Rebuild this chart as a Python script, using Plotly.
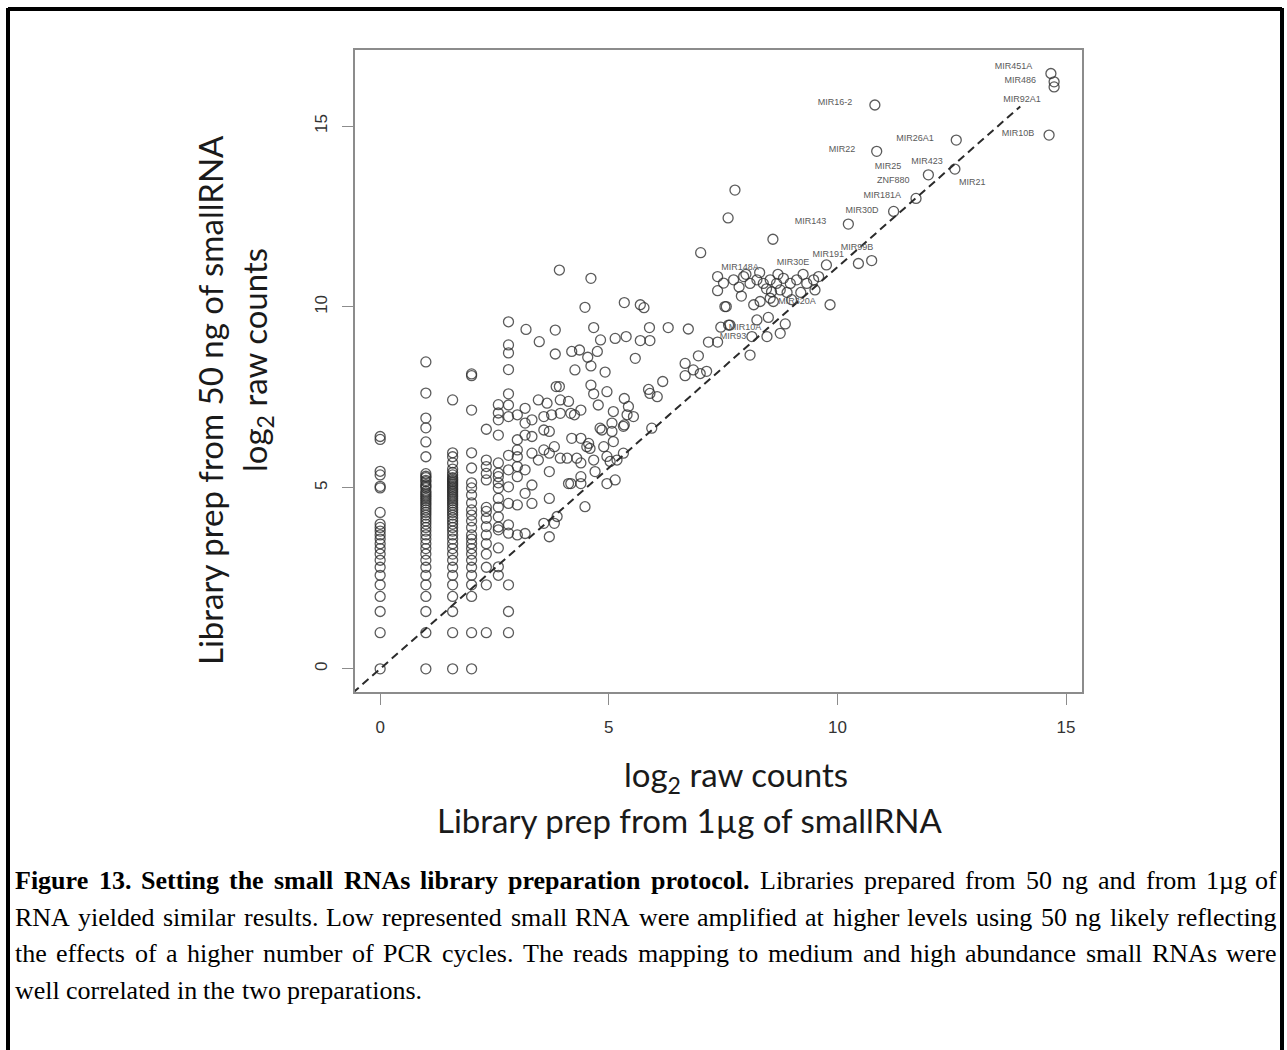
import plotly.graph_objects as go

# ---------------------------------------------------------------------------
# Data: log2 raw counts, library prepared from 1 ug (x) vs from 50 ng (y)
# ---------------------------------------------------------------------------
# Low-count reads fall on discrete log2 values, so they form columns.
col_x = [0.0, 1.0, 1.585, 2.0, 2.322, 2.585, 2.807]
col_y = [
    [0, 1, 1.585, 2, 2.322, 2.585, 2.807, 3, 3.17, 3.322, 3.459, 3.585, 3.7,
     3.807, 3.907, 4, 4.322, 5, 5.044, 5.358, 5.459, 6.34, 6.42],
    [0, 1, 1.585, 2, 2.322, 2.585, 2.807, 3, 3.17, 3.322, 3.459, 3.585, 3.7,
     3.807, 3.907, 4, 4.087, 4.17, 4.248, 4.322, 4.392, 4.459, 4.524, 4.585,
     4.644, 4.7, 4.755, 4.807, 4.858, 4.907, 5, 5.044, 5.087, 5.17, 5.209,
     5.285, 5.322, 5.392, 5.86, 6.27, 6.66, 6.93, 7.62, 8.48],
    [0, 1, 1.585, 2, 2.322, 2.585, 2.807, 3, 3.17, 3.322, 3.459, 3.585, 3.7,
     3.807, 3.907, 4, 4.087, 4.17, 4.248, 4.322, 4.392, 4.459, 4.524, 4.585,
     4.644, 4.7, 4.755, 4.807, 4.858, 4.907, 4.954, 5, 5.044, 5.087, 5.129,
     5.17, 5.209, 5.248, 5.285, 5.358, 5.426, 5.52, 5.69, 5.86, 5.97, 7.43],
    [0, 1, 2, 2.322, 2.585, 2.807, 3, 3.17, 3.322, 3.459, 3.585, 3.7, 3.907,
     4.087, 4.248, 4.392, 4.585, 4.807, 5, 5.14, 5.55, 5.97, 7.15, 8.1, 8.15],
    [1, 2.322, 2.807, 3.17, 3.459, 3.7, 3.93, 4.16, 4.35, 4.46, 5.22, 5.4,
     5.59, 5.77, 6.62],
    [2.585, 2.82, 3.34, 3.84, 3.92, 4.2, 4.47, 4.71, 4.99, 5.14, 5.31, 5.41,
     5.69, 6.46, 6.88, 7.07, 7.3],
    [1, 1.585, 2.322, 3.75, 3.98, 4.57, 5.03, 5.5, 5.9, 6.97, 7.29, 7.6, 8.27,
     8.73, 8.95, 9.59],
]

# Medium-abundance small RNAs (x = 1 ug prep, y = 50 ng prep)
mid_x = [
    3.92, 4.61, 7.01, 7.38, 7.51, 7.38, 7.54, 7.45, 7.62,
    4.48, 5.34, 5.69, 5.77,
    3.19, 3.83, 4.67, 5.89, 6.3, 6.74,
    3.48, 3.83, 4.19, 4.36, 4.54, 4.75, 4.82, 5.14, 5.38, 5.69, 5.9, 5.58, 7.18, 7.38,
    4.26, 4.61, 4.92,
    6.67, 6.96, 6.85, 7.14, 6.67, 7.0,
    3.85, 3.92, 4.61, 4.67, 4.96, 5.34, 5.87, 5.9, 6.06, 6.18,
    3.0, 3.17, 3.17,
    3.46, 3.65, 3.32, 3.58, 3.75, 3.94, 4.12, 3.94, 4.17, 4.39, 4.25,
    4.77, 5.1, 5.43, 5.4, 5.54, 5.34,
    3.0, 3.17, 3.32, 3.0,
    3.58, 3.7, 4.19, 4.39, 4.56, 4.59, 4.52,
    4.85, 5.07, 5.07, 5.1, 4.81, 5.32,
    3.0, 3.0, 3.0, 3.17,
    3.32, 3.58, 3.81, 3.7, 3.94, 4.09, 4.3, 4.39, 4.67, 3.46,
    3.7, 4.17, 4.39, 4.39, 4.7, 4.89, 5.03, 5.18, 4.96, 5.14, 5.32, 4.96,
    3.32, 3.17, 3.32,
    3.0, 3.7, 3.87, 3.81, 3.7, 3.58, 4.12, 4.48, 3.17, 3.0,
    5.94,
]
mid_y = [
    11.02, 10.79, 11.5, 10.84, 10.66, 10.45, 10.01, 9.44, 9.5,
    9.99, 10.12, 10.06, 9.98,
    9.38, 9.36, 9.43, 9.43, 9.43, 9.39,
    9.04, 8.7, 8.77, 8.81, 8.61, 8.77, 9.09, 9.13, 9.18, 9.07, 9.07, 8.58, 9.03, 9.03,
    8.26, 8.37, 8.2,
    8.44, 8.65, 8.26, 8.22, 8.1, 8.16,
    7.8, 7.8, 7.84, 7.6, 7.66, 7.47, 7.72, 7.61, 7.52, 7.94,
    7.02, 7.2, 6.79,
    7.43, 7.34, 6.88, 6.97, 7.02, 7.43, 7.39, 7.06, 7.06, 7.15, 7.02,
    7.29, 7.11, 7.25, 7.02, 6.97, 6.74,
    6.33, 6.46, 6.42, 6.05,
    6.6, 6.56, 6.37, 6.37, 6.23, 6.09, 6.14,
    6.6, 6.79, 6.56, 6.28, 6.65, 6.7,
    5.86, 5.59, 5.31, 5.5,
    5.96, 6.05, 6.14, 5.96, 5.82, 5.82, 5.82, 5.69, 5.77, 5.77,
    5.45, 5.12, 5.31, 5.12, 5.45, 6.14, 5.73, 5.77, 5.12, 5.22, 5.96, 5.87,
    5.08, 4.85, 4.57,
    4.53, 4.71, 4.21, 4.02, 3.65, 4.02, 5.12, 4.48, 3.74, 3.7,
    6.65,
]

# High-abundance small RNAs
high_x = [
    8.59, 7.73, 7.95, 8.09, 8.24, 8.38, 8.53, 8.67, 8.82, 8.97, 9.11, 8.56,
    8.75, 8.53, 8.6, 9.33, 9.48, 9.59, 9.51,
    9.76, 10.46, 10.75, 9.84, 8.17, 8.31, 7.57,
    8.24, 8.49, 8.86, 8.75, 8.46, 7.65, 8.13, 8.09,
    7.85, 8.0, 8.3, 8.45, 8.9, 9.0, 9.2, 7.9, 8.7, 9.25,
    7.76, 7.61,
    10.24, 11.23, 11.72, 11.99, 12.57, 12.6, 10.86, 10.82, 14.63, 14.67,
    14.74, 14.74,
]
high_y = [
    11.87, 10.75, 10.84, 10.65, 10.75, 10.65, 10.75, 10.65, 10.79, 10.65,
    10.75, 10.42, 10.47, 10.24, 10.15, 10.65, 10.75, 10.84, 10.47,
    11.16, 11.2, 11.28, 10.06, 10.06, 10.15, 10.01,
    9.64, 9.71, 9.53, 9.27, 9.18, 9.5, 9.18, 8.67,
    10.55, 10.9, 10.95, 10.5, 10.4, 10.2, 10.4, 10.3, 10.9, 10.9,
    13.23, 12.46,
    12.29, 12.64, 13.0, 13.65, 13.81, 14.61, 14.3, 15.58, 14.75, 16.45,
    16.22, 16.08,
]

# Gene labels next to the most abundant species
label_text = ["MIR451A", "MIR486", "MIR92A1", "MIR10B", "MIR16-2", "MIR26A1",
              "MIR22", "MIR423", "MIR25", "ZNF880", "MIR21", "MIR181A",
              "MIR30D", "MIR143", "MIR99B", "MIR191", "MIR30E", "MIR148A",
              "MIR320A", "MIR10A", "MIR93"]
label_x = [13.85, 14.0, 14.04, 13.95, 9.95, 11.7, 10.1, 11.96, 11.11, 11.22,
           12.95, 10.98, 10.54, 9.41, 10.43, 9.8, 9.03, 7.87, 9.12, 7.98, 7.72]
label_y = [16.63, 16.25, 15.72, 14.78, 15.64, 14.65, 14.34, 14.01, 13.87,
           13.48, 13.43, 13.07, 12.66, 12.35, 11.63, 11.44, 11.22, 11.08,
           10.14, 9.42, 9.17]

# Regression line through the origin
fit_slope = 1.11
fit_x = [-0.6, 14.0]

x_ticks = [0, 5, 10, 15]
y_ticks = [0, 5, 10, 15]

caption_lines = [
    [("Figure 13. Setting the small RNAs library preparation protocol.", True),
     ("Libraries prepared from 50 ng and from 1µg of", False)],
    [("RNA yielded similar results. Low represented small RNA were amplified "
      "at higher levels using 50 ng likely reflecting", False)],
    [("the effects of a higher number of PCR cycles. The reads mapping to "
      "medium and high abundance small RNAs were", False)],
    [("well correlated in the two preparations.", False)],
]

# ---------------------------------------------------------------------------
# Page geometry (pixels)
# ---------------------------------------------------------------------------
W, H = 1287, 1050
PL, PR, PT, PB = 355, 1082, 50, 692
X_RANGE = [-0.55, 15.35]
Y_RANGE = [-0.64, 17.1]


def paper_x(px):
    return (px - PL) / (PR - PL)


def paper_y(py):
    return (PB - py) / (PB - PT)


all_x, all_y = [], []
for cx, ys in zip(col_x, col_y):
    all_x += [cx] * len(ys)
    all_y += ys
all_x += mid_x + high_x
all_y += mid_y + high_y

fig = go.Figure()

fig.add_trace(go.Scatter(
    x=fit_x, y=[fit_slope * v for v in fit_x], mode="lines",
    line=dict(color="#2b2b2b", width=2, dash="8px,5px"),
    hoverinfo="skip", showlegend=False))

fig.add_trace(go.Scatter(
    x=all_x, y=all_y, mode="markers",
    marker=dict(symbol="circle-open", size=10,
                color="rgba(45,45,45,0.78)", line=dict(width=1.3)),
    showlegend=False))

fig.add_trace(go.Scatter(
    x=label_x, y=label_y, mode="text", text=label_text,
    textfont=dict(family="Liberation Sans", size=9, color="#5a5a5a"),
    hoverinfo="skip", showlegend=False))

axis_common = dict(
    showgrid=False, zeroline=False, showline=True, mirror=True,
    linecolor="#8c8c8c", linewidth=1.6, ticks="outside", ticklen=11,
    tickwidth=1.4, tickcolor="#8c8c8c",
    tickfont=dict(family="Liberation Sans", size=17, color="#333333"),
)
fig.update_xaxes(range=X_RANGE, tickvals=x_ticks, ticklabelstandoff=8,
                 **axis_common)
fig.update_yaxes(range=Y_RANGE, tickvals=y_ticks, tickangle=-90,
                 ticklabelstandoff=8, **axis_common)

annotations = []
title_font = dict(family="Lato", size=33, color="#1a1a1a")
title_common = dict(xref="paper", yref="paper", xanchor="center",
                    yanchor="middle", showarrow=False, font=title_font)
annotations.append(dict(
    title_common, text="Library prep from 50 ng of smallRNA", textangle=-90,
    x=paper_x(210), y=paper_y(400)))
annotations.append(dict(
    title_common, text="log<sub>2</sub> raw counts", textangle=-90,
    x=paper_x(256), y=paper_y(360)))
annotations.append(dict(
    title_common, text="log<sub>2</sub> raw counts",
    x=paper_x(736), y=paper_y(776)))
annotations.append(dict(
    title_common, text="Library prep from 1µg of smallRNA",
    x=paper_x(690), y=paper_y(820)))

# ---------------------------------------------------------------------------
# Justified caption set in Times metrics (per-1000 em advance widths)
# ---------------------------------------------------------------------------
TIMES = dict(zip("ABCDEFGHIJKLMNOPQRSTUVWXYZ",
                 [722, 667, 667, 722, 611, 556, 722, 722, 333, 389, 722, 611,
                  889, 722, 722, 556, 722, 667, 556, 611, 722, 722, 944, 722,
                  722, 611]))
TIMES.update(zip("abcdefghijklmnopqrstuvwxyz",
                 [444, 500, 444, 500, 444, 333, 500, 500, 278, 278, 500, 278,
                  778, 500, 500, 500, 500, 333, 389, 278, 500, 500, 722, 500,
                  500, 444]))
TIMES_BOLD = dict(zip("ABCDEFGHIJKLMNOPQRSTUVWXYZ",
                      [722, 667, 722, 722, 667, 611, 778, 778, 389, 500, 778,
                       667, 944, 722, 778, 611, 778, 722, 556, 667, 722, 722,
                       1000, 722, 722, 667]))
TIMES_BOLD.update(zip("abcdefghijklmnopqrstuvwxyz",
                      [500, 556, 444, 556, 444, 333, 500, 556, 278, 333, 556,
                       278, 833, 556, 500, 556, 556, 444, 389, 333, 556, 500,
                       722, 500, 500, 444]))
for tbl in (TIMES, TIMES_BOLD):
    tbl.update({c: 500 for c in "0123456789"})
    tbl.update({".": 250, ",": 250, " ": 250, "µ": 500, "-": 333})

CAP_SIZE = 26
CAP_LEFT, CAP_RIGHT = 13, 1275
cap_rows = [880, 917, 953, 990]


def word_width(word, bold):
    tbl = TIMES_BOLD if bold else TIMES
    return sum(tbl.get(ch, 500) for ch in word) * CAP_SIZE / 1000.0


for i, (row, py) in enumerate(zip(caption_lines, cap_rows)):
    words = []
    for chunk, bold in row:
        words += [(w, bold) for w in chunk.split(" ")]
    widths = [word_width(w, b) for w, b in words]
    last = i == len(caption_lines) - 1
    if last:
        gap = 250 * CAP_SIZE / 1000.0
    else:
        gap = (CAP_RIGHT - CAP_LEFT - sum(widths)) / (len(words) - 1)
    px = CAP_LEFT
    for (w, bold), wd in zip(words, widths):
        annotations.append(dict(
            text=f"<b>{w}</b>" if bold else w,
            x=paper_x(px), y=paper_y(py), xref="paper", yref="paper",
            xanchor="left", yanchor="middle", showarrow=False,
            font=dict(family="Liberation Serif", size=CAP_SIZE, color="#000000")))
        px += wd + gap

# Outer frame of the figure panel
shapes = []
frame = dict(type="line", xref="paper", yref="paper",
             line=dict(color="#000000", width=4), layer="above")
shapes.append(dict(frame, x0=paper_x(8), x1=paper_x(8), y0=paper_y(8), y1=paper_y(1060)))
shapes.append(dict(frame, x0=paper_x(8), x1=paper_x(1282), y0=paper_y(9), y1=paper_y(9)))
shapes.append(dict(frame, x0=paper_x(1282), x1=paper_x(1282), y0=paper_y(8), y1=paper_y(1060)))

fig.update_layout(
    width=W, height=H,
    margin=dict(l=PL, r=W - PR, t=PT, b=H - PB, pad=0),
    paper_bgcolor="white", plot_bgcolor="white",
    annotations=annotations, shapes=shapes, showlegend=False,
)

fig.write_html("out.html")
